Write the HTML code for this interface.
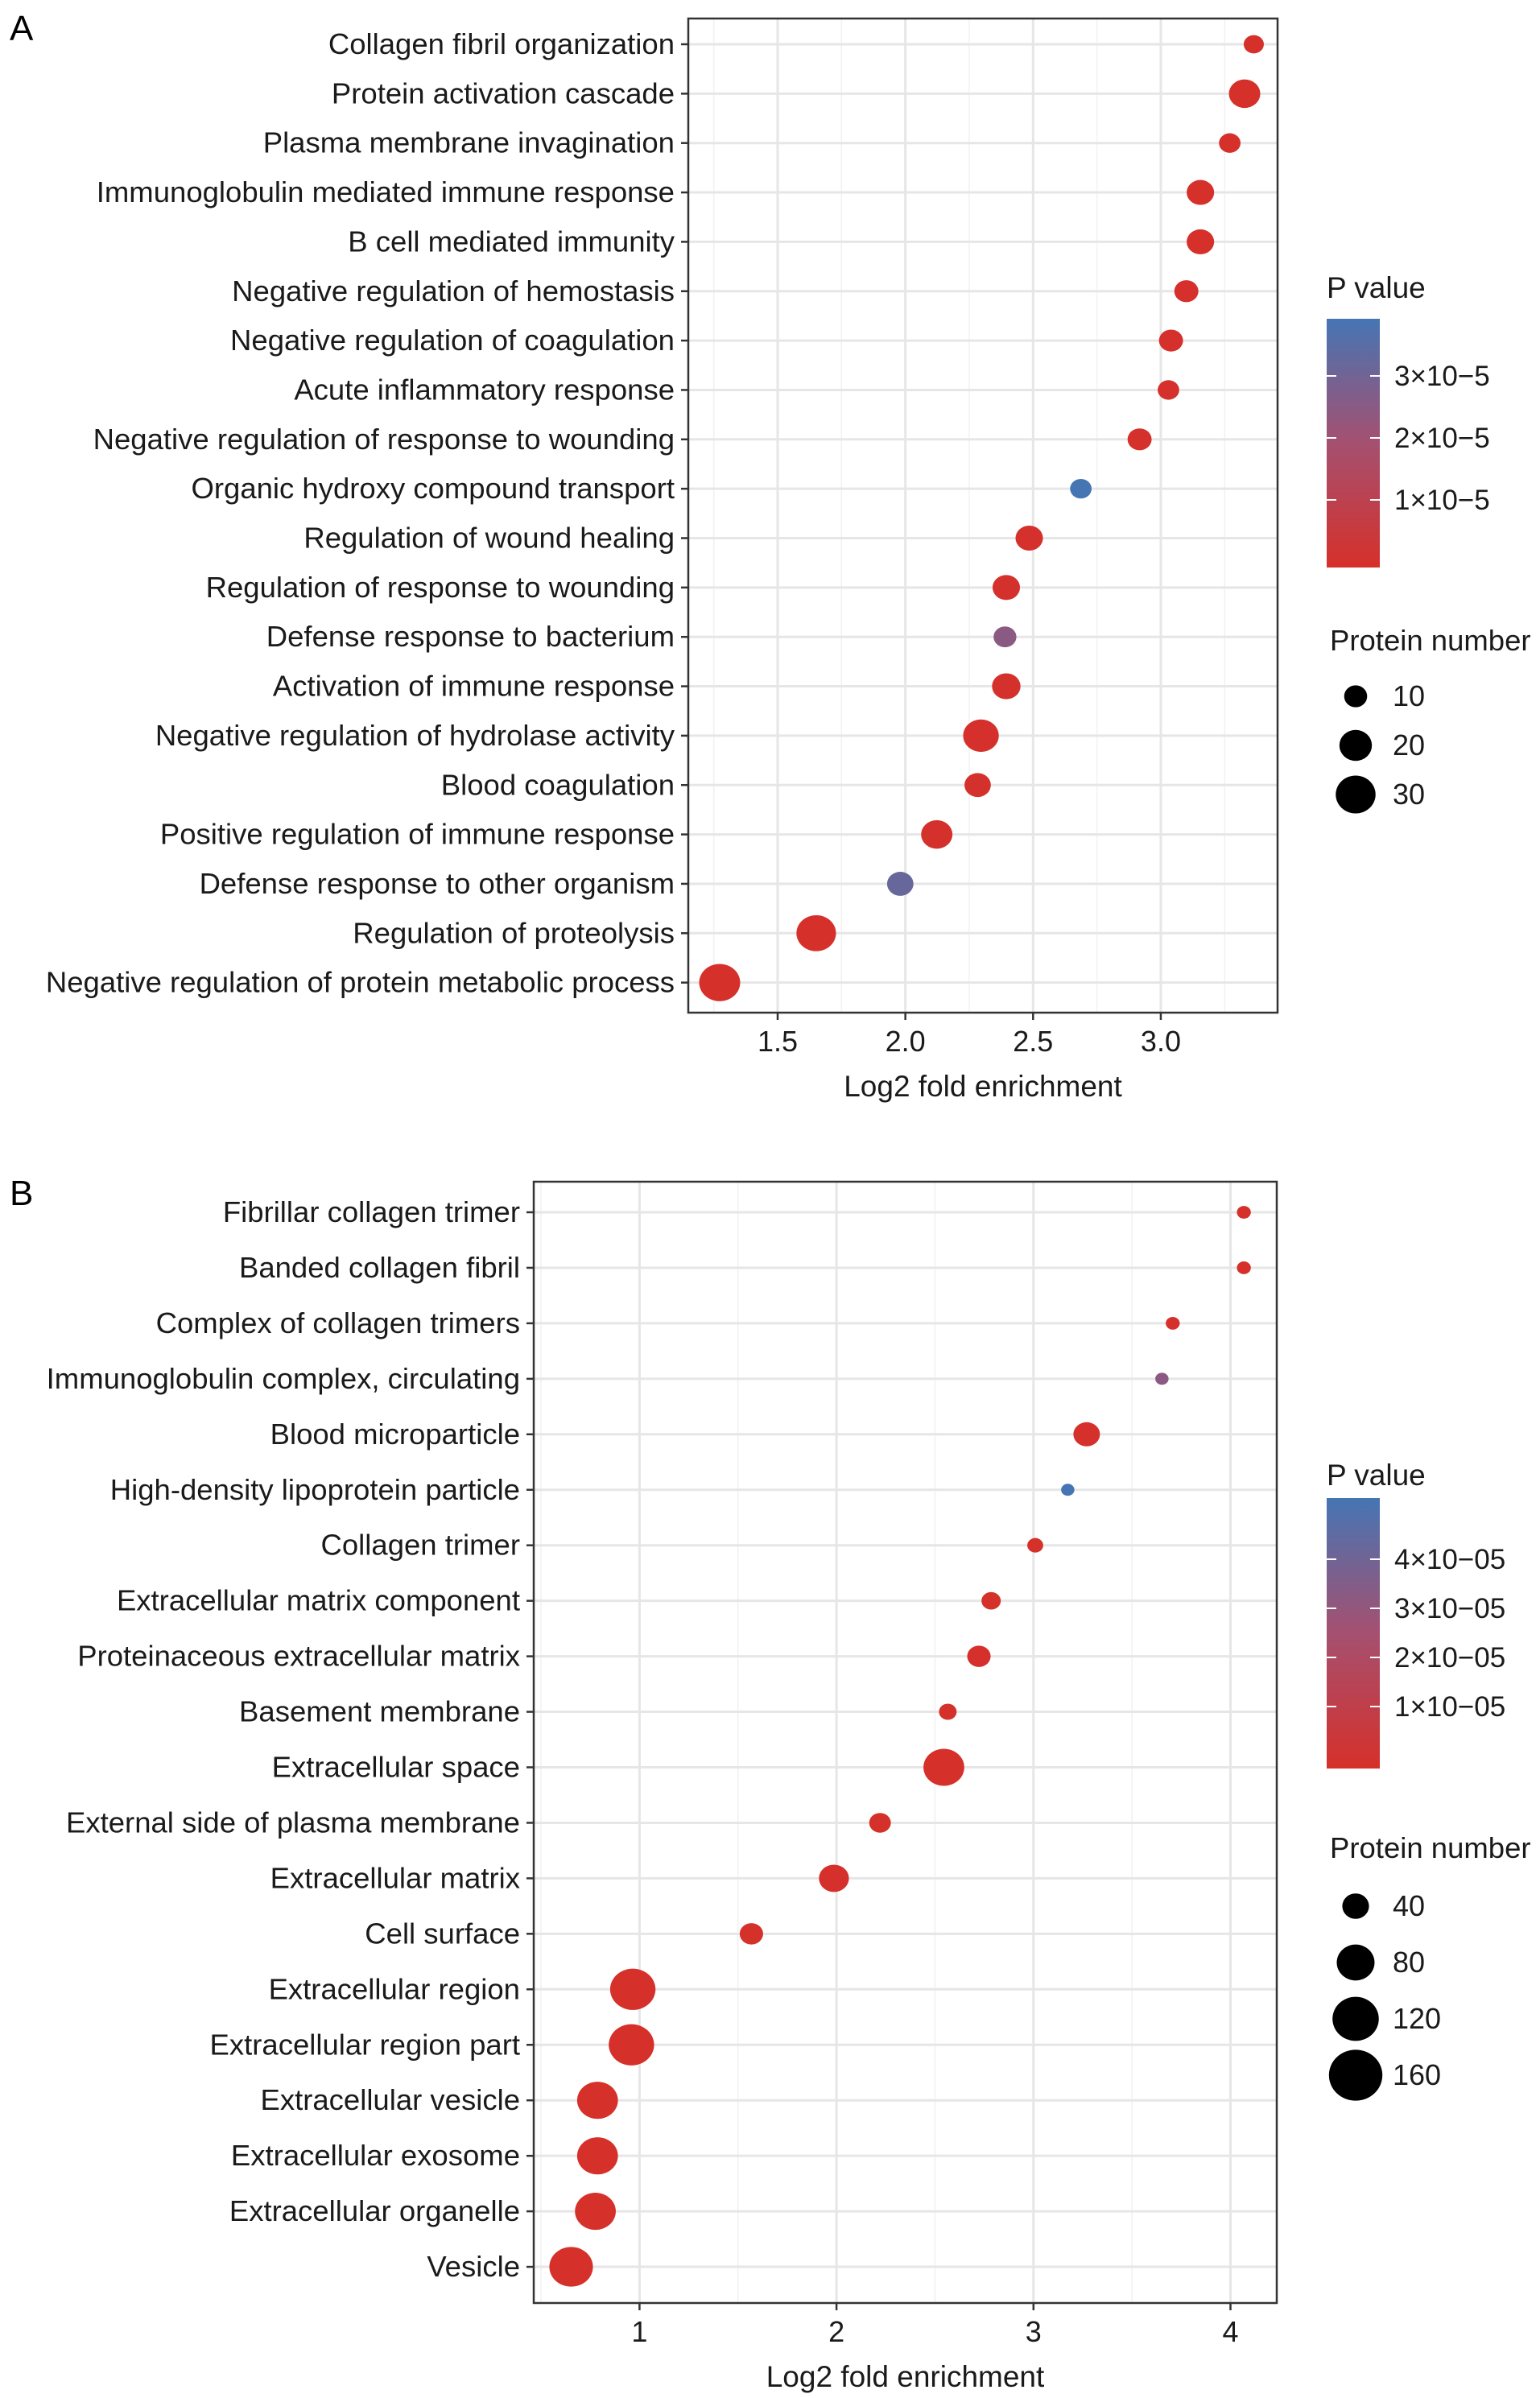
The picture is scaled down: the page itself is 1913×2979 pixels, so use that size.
<!DOCTYPE html>
<html><head><meta charset="utf-8"><style>
body{margin:0;background:#fff}
svg{display:block;font-family:"Liberation Sans",Arial,sans-serif}
</style></head><body>
<svg id="chart" width="1913" height="2979" viewBox="0 0 1913 2979" xmlns="http://www.w3.org/2000/svg">
<defs>
<linearGradient id="gradA" x1="0" y1="1" x2="0" y2="0"><stop offset="0" stop-color="#d6302a"/><stop offset="0.5" stop-color="#a55070"/><stop offset="1" stop-color="#4575b4"/></linearGradient>
<linearGradient id="gradB" x1="0" y1="1" x2="0" y2="0"><stop offset="0" stop-color="#d6302a"/><stop offset="0.5" stop-color="#a55070"/><stop offset="1" stop-color="#4575b4"/></linearGradient>
</defs>
<text x="12" y="50" font-size="44">A</text>
<text x="12" y="1497" font-size="44">B</text>
</svg>
<script>
const catsA=["Collagen fibril organization","Protein activation cascade","Plasma membrane invagination","Immunoglobulin mediated immune response","B cell mediated immunity","Negative regulation of hemostasis","Negative regulation of coagulation","Acute inflammatory response","Negative regulation of response to wounding","Organic hydroxy compound transport","Regulation of wound healing","Regulation of response to wounding","Defense response to bacterium","Activation of immune response","Negative regulation of hydrolase activity","Blood coagulation","Positive regulation of immune response","Defense response to other organism","Regulation of proteolysis","Negative regulation of protein metabolic process"];
const foldA=[3.364,3.328,3.27,3.155,3.155,3.10,3.04,3.03,2.917,2.687,2.485,2.395,2.39,2.395,2.296,2.283,2.123,1.98,1.651,1.273];
const countA=[7,17,8,13,13,10,10,8,10,8,13,13,9,14,22,12,17,12,27,29];
const pvalA=[0.1e-6,0.1e-6,0.2e-6,0.2e-6,0.2e-6,0.3e-6,0.3e-6,0.3e-6,0.5e-6,3.9e-5,0.5e-6,0.5e-6,2.5e-5,0.5e-6,0.3e-6,0.5e-6,0.5e-6,3.2e-5,0.2e-6,0.1e-6];
const ticksA=[1.5,2.0,2.5,3.0];
const minorA=[1.25,1.75,2.25,2.75,3.25];
const pTicksA=[1e-5,2e-5,3e-5];
const pTickLabelsA=["1×10−5","2×10−5","3×10−5"];
const sizeTicksA=[10,20,30];

const catsB=["Fibrillar collagen trimer","Banded collagen fibril","Complex of collagen trimers","Immunoglobulin complex, circulating","Blood microparticle","High-density lipoprotein particle","Collagen trimer","Extracellular matrix component","Proteinaceous extracellular matrix","Basement membrane","Extracellular space","External side of plasma membrane","Extracellular matrix","Cell surface","Extracellular region","Extracellular region part","Extracellular vesicle","Extracellular exosome","Extracellular organelle","Vesicle"];
const foldB=[4.068,4.068,3.707,3.652,3.27,3.174,3.009,2.785,2.723,2.565,2.545,2.221,1.987,1.568,0.966,0.959,0.787,0.787,0.776,0.653];
const countB=[10,10,10,9,36,9,13,19,28,16,85,24,46,28,105,105,85,85,85,97];
const pvalB=[0.2e-6,0.2e-6,0.3e-6,3.3e-5,0.3e-6,5.2e-5,0.5e-6,0.5e-6,0.3e-6,0.5e-6,0.1e-6,0.5e-6,0.3e-6,0.5e-6,0.1e-6,0.1e-6,0.1e-6,0.1e-6,0.1e-6,0.1e-6];
const ticksB=[1,2,3,4];
const minorB=[0.5,1.5,2.5,3.5];
const pTicksB=[1e-5,2e-5,3e-5,4e-5];
const pTickLabelsB=["1×10−05","2×10−05","3×10−05","4×10−05"];
const sizeTicksB=[40,80,120,160];

const svg=document.getElementById('chart');
const NS="http://www.w3.org/2000/svg";
function mk(tag,attrs,parent){const e=document.createElementNS(NS,tag);for(const k in attrs)e.setAttribute(k,attrs[k]);(parent||svg).appendChild(e);return e;}
function lerp(a,b,t){return Math.round(a+(b-a)*t);}
function colorFor(p,pmax){let t=Math.max(0,Math.min(1,p/pmax));const r=[214,48,42],m=[165,80,112],b=[69,117,180];let c;
 if(t<0.5){const u=t/0.5;c=[lerp(r[0],m[0],u),lerp(r[1],m[1],u),lerp(r[2],m[2],u)];}else{const u=(t-0.5)/0.5;c=[lerp(m[0],b[0],u),lerp(m[1],b[1],u),lerp(m[2],b[2],u)];}
 return `rgb(${c[0]},${c[1]},${c[2]})`;}

function panel(cfg){
 const g=mk('g',{});
 
 
 const xs=v=>cfg.x0px+(v-cfg.x0v)*cfg.unit;
 const ys=i=>cfg.row0+i*cfg.step;
 mk('rect',{x:cfg.L,y:cfg.T,width:cfg.R-cfg.L,height:cfg.B-cfg.T,fill:'#fff'},g);
 cfg.minor.forEach(v=>{const l=mk('line',{x1:xs(v),x2:xs(v),y1:cfg.T,y2:cfg.B,stroke:'#f2f2f2','stroke-width':1.6},g);});
 cfg.ticks.forEach(v=>{const l=mk('line',{x1:xs(v),x2:xs(v),y1:cfg.T,y2:cfg.B,stroke:'#e6e6e6','stroke-width':3},g);});
 cfg.cats.forEach((c,i)=>{const l=mk('line',{x1:cfg.L,x2:cfg.R,y1:ys(i),y2:ys(i),stroke:'#e6e6e6','stroke-width':3},g);});
 mk('rect',{x:cfg.L,y:cfg.T,width:cfg.R-cfg.L,height:cfg.B-cfg.T,fill:'none',stroke:'#333','stroke-width':2.5},g);
 cfg.cats.forEach((c,i)=>{
  const t=mk('text',{x:cfg.L-17,y:ys(i)+12,'font-size':36.5,'text-anchor':'end',fill:'#1a1a1a'},g);t.textContent=c;
  
  
  mk('line',{x1:cfg.L-9,x2:cfg.L,y1:ys(i),y2:ys(i),stroke:'#333','stroke-width':2.5},g);
 });
 cfg.ticks.forEach(v=>{
  mk('line',{x1:xs(v),x2:xs(v),y1:cfg.B,y2:cfg.B+9,stroke:'#333','stroke-width':2.5},g);
  const t=mk('text',{x:xs(v),y:cfg.B+48,'font-size':36,'text-anchor':'middle',fill:'#1a1a1a'},g);t.textContent=cfg.tickFmt(v);
  
  
 });
 const at=mk('text',{x:(cfg.L+cfg.R)/2,y:cfg.B+104,'font-size':37,'text-anchor':'middle',fill:'#1a1a1a'},g);at.textContent='Log2 fold enrichment';
 
 
 cfg.fold.forEach((v,i)=>{
  const r=cfg.rk*Math.sqrt(cfg.count[i]);
  const c=mk('ellipse',{cx:xs(v),cy:ys(i),rx:r*1.1,ry:r,fill:colorFor(cfg.pval[i],cfg.pmax)},g);
  
  
 });
 const pt=mk('text',{x:cfg.legX,y:cfg.legPY,'font-size':37,fill:'#1a1a1a'},g);pt.textContent='P value';
 
 
 const cb=mk('rect',{x:cfg.legX,y:cfg.barT,width:66,height:cfg.barB-cfg.barT,fill:cfg.grad},g);
 
 
 const py=p=>cfg.p0y-p*cfg.pUnit;
 cfg.pTicks.forEach((p,i)=>{
  mk('line',{x1:cfg.legX,x2:cfg.legX+12,y1:py(p),y2:py(p),stroke:'#fff','stroke-width':2},g);
  mk('line',{x1:cfg.legX+54,x2:cfg.legX+66,y1:py(p),y2:py(p),stroke:'#fff','stroke-width':2},g);
  const t=mk('text',{x:cfg.legX+84,y:py(p)+12,'font-size':35,fill:'#1a1a1a'},g);t.textContent=cfg.pLabels[i];
  
  
 });
 const st=mk('text',{x:cfg.legX+4,y:cfg.legSY,'font-size':36.5,fill:'#1a1a1a'},g);st.textContent='Protein number';
 
 
 cfg.sizeTicks.forEach((s,i)=>{
  const y=cfg.sz0+i*cfg.szStep, r=cfg.rk*Math.sqrt(s);
  const c=mk('ellipse',{cx:cfg.legX+36,cy:y,rx:r*1.05,ry:r,fill:'#000'},g);
  
  
  const t=mk('text',{x:cfg.legX+82,y:y+12,'font-size':36,fill:'#1a1a1a'},g);t.textContent=s;
  
  
 });
}
panel({name:'panel-a-chart',L:855,R:1587,T:23,B:1258,x0v:1.5,x0px:966,unit:317.3,row0:55,step:61.35,
 cats:catsA,fold:foldA,count:countA,pval:pvalA,pmax:3.92e-5,ticks:ticksA,minor:minorA,tickFmt:v=>v.toFixed(1),rk:4.3,
 legX:1648,legPY:370,barT:396,barB:705,grad:'url(#gradA)',p0y:698,pUnit:7.7e6,pTicks:pTicksA,pLabels:pTickLabelsA,
 legSY:808,sizeTicks:sizeTicksA,sz0:865,szStep:61});
panel({name:'panel-b-chart',L:663,R:1586,T:1468,B:2861,x0v:1,x0px:794.4,unit:244.7,row0:1506,step:68.95,
 cats:catsB,fold:foldB,count:countB,pval:pvalB,pmax:5.2e-5,ticks:ticksB,minor:minorB,tickFmt:v=>String(v),rk:2.5,
 legX:1648,legPY:1845,barT:1861,barB:2197,grad:'url(#gradB)',p0y:2181,pUnit:6.1e6,pTicks:pTicksB,pLabels:pTickLabelsB,
 legSY:2308,sizeTicks:sizeTicksB,sz0:2368,szStep:70});
</script>
</body></html>
